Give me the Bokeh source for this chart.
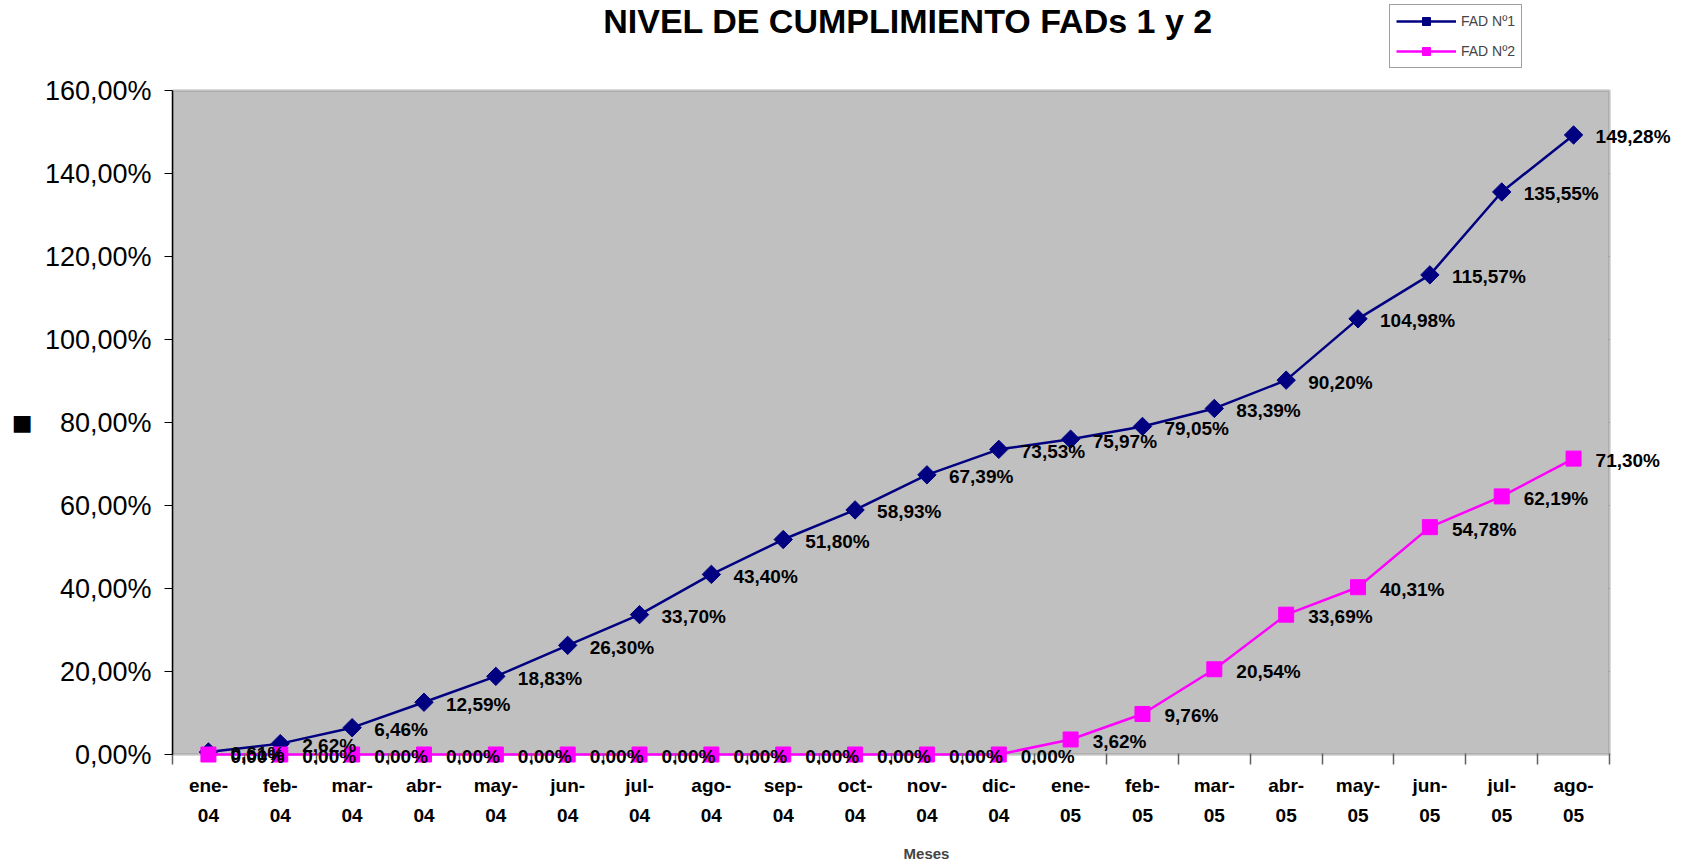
import math
from bokeh.plotting import figure
from bokeh.models import (Range1d, LinearAxis, FixedTicker, ColumnDataSource,
                          LabelSet, Label, Legend, LegendItem, BoxAnnotation)
from bokeh.core.properties import value
from bokeh.embed import file_html
from bokeh.resources import INLINE

# ---------------- data ----------------
months = ["ene-04", "feb-04", "mar-04", "abr-04", "may-04", "jun-04", "jul-04",
          "ago-04", "sep-04", "oct-04", "nov-04", "dic-04", "ene-05", "feb-05",
          "mar-05", "abr-05", "may-05", "jun-05", "jul-05", "ago-05"]
fad1 = [0.61, 2.62, 6.46, 12.59, 18.83, 26.30, 33.70, 43.40, 51.80, 58.93,
        67.39, 73.53, 75.97, 79.05, 83.39, 90.20, 104.98, 115.57, 135.55, 149.28]
fad2 = [0.00, 0.00, 0.00, 0.00, 0.00, 0.00, 0.00, 0.00, 0.00, 0.00,
        0.00, 0.00, 3.62, 9.76, 20.54, 33.69, 40.31, 54.78, 62.19, 71.30]
y_ticks = [0, 20, 40, 60, 80, 100, 120, 140, 160]
y_tick_labels = ["0,00%", "20,00%", "40,00%", "60,00%", "80,00%",
                 "100,00%", "120,00%", "140,00%", "160,00%"]
series_names = ["FAD Nº1", "FAD Nº2"]
title_text = "NIVEL DE CUMPLIMIENTO FADs 1 y 2"
x_title = "Meses"
y_title = "■"

# ---------------- geometry (pixels) ----------------
n = len(months)
SANS = "Liberation Sans"
left_px = 172             # page x of the gray plotting area
plot_w_px = 1437          # gray plotting area width
plot_h_px = 664           # gray plotting area height
frame_w = 1682 - left_px - 2   # frame extends right so labels are not clipped
top_px = 90               # space above gray area (title + legend)
bottom_px = 10            # space below zero line for labels
frame_h = plot_h_px + top_px + bottom_px
px_per_x = plot_w_px / n
px_per_y = plot_h_px / (y_ticks[-1] - y_ticks[0])
x_start = -0.5
x_end = x_start + frame_w / px_per_x
y_start = y_ticks[0] - bottom_px / px_per_y
y_end = y_ticks[-1] + top_px / px_per_y

p = figure(frame_width=frame_w, frame_height=frame_h,
           x_range=Range1d(x_start, x_end), y_range=Range1d(y_start, y_end),
           x_axis_type=None, output_backend="svg", toolbar_location=None,
           min_border_left=left_px, min_border_right=0, min_border_top=0,
           min_border_bottom=0, background_fill_color="white",
           border_fill_color="white")
p.title = None
p.outline_line_color = None
p.xgrid.visible = False
p.ygrid.visible = False

# gray plotting area
p.add_layout(BoxAnnotation(left=-0.5, right=n - 0.5, bottom=y_ticks[0],
                           top=y_ticks[-1], fill_color="#C0C0C0", fill_alpha=1,
                           line_color="#808080", line_width=3, level="underlay"))
# horizontal grid lines
p.segment(x0=[-0.5] * (len(y_ticks) - 2), x1=[n - 0.5] * (len(y_ticks) - 2),
          y0=y_ticks[1:-1], y1=y_ticks[1:-1], line_color="#1a1a1a",
          line_width=1, level="underlay")

# y axis
yax = p.yaxis[0]
yax.ticker = FixedTicker(ticks=y_ticks, minor_ticks=[])
yax.bounds = (y_ticks[0], y_ticks[-1])
yax.major_label_overrides = {t: l for t, l in zip(y_ticks, y_tick_labels)}
yax.major_label_text_font = SANS
yax.major_label_text_font_size = "27px"
yax.major_label_text_color = "black"
yax.major_label_standoff = 13
yax.axis_line_color = "black"
yax.axis_line_width = 1.5
yax.major_tick_out = 8
yax.major_tick_in = 0
yax.major_tick_line_color = "black"

# y title (black square) as outer axis label at the middle of the value range
ymid = (y_ticks[0] + y_ticks[-1]) / 2
yax2 = LinearAxis(ticker=FixedTicker(ticks=[ymid], minor_ticks=[]),
                  major_label_overrides={ymid: y_title})
yax2.axis_line_color = None
yax2.major_tick_line_color = None
yax2.major_tick_out = 0
yax2.major_tick_in = 0
yax2.major_label_standoff = 9
yax2.major_label_text_font = "DejaVu Sans"
yax2.major_label_text_font_size = "22px"
yax2.major_label_text_color = "black"
p.add_layout(yax2, "left")

# x axes (two lines of month labels)
bounds = [i - 0.5 for i in range(n + 1)]
line1 = {i: m.split("-")[0] + "-" for i, m in enumerate(months)}
line2 = {i: m.split("-")[1] for i, m in enumerate(months)}

xax1 = LinearAxis(ticker=FixedTicker(ticks=list(range(n)), minor_ticks=bounds),
                  major_label_overrides=line1)
xax1.axis_line_color = None
xax1.major_tick_out = 0
xax1.major_tick_in = 0
xax1.minor_tick_out = 0
xax1.minor_tick_in = bottom_px + 1
xax1.minor_tick_line_color = "#606060"
xax1.minor_tick_line_width = 1.5
xax1.major_label_standoff = 10
xax1.major_label_text_font = SANS
xax1.major_label_text_font_style = "bold"
xax1.major_label_text_font_size = "19px"
xax1.major_label_text_color = "black"
p.add_layout(xax1, "below")

xax2 = LinearAxis(ticker=FixedTicker(ticks=list(range(n)), minor_ticks=[]),
                  major_label_overrides=line2)
xax2.axis_line_color = None
xax2.major_tick_line_color = None
xax2.minor_tick_line_color = None
xax2.major_tick_out = 0
xax2.major_tick_in = 0
xax2.major_label_standoff = 10
xax2.major_label_text_font = SANS
xax2.major_label_text_font_style = "bold"
xax2.major_label_text_font_size = "19px"
xax2.major_label_text_color = "black"
xax2.axis_label = x_title
xax2.axis_label_text_font = SANS
xax2.axis_label_text_font_style = "bold"
xax2.axis_label_text_font_size = "15px"
xax2.axis_label_standoff = 20
p.add_layout(xax2, "below")

# ---------------- series ----------------
def fmt(v):
    return ("%.2f" % v).replace(".", ",") + "%"

src1 = ColumnDataSource(dict(x=list(range(n)), y=fad1, t=[fmt(v) for v in fad1]))
src2 = ColumnDataSource(dict(x=list(range(n)), y=fad2, t=[fmt(v) for v in fad2]))

l1 = p.line("x", "y", source=src1, line_color="#000080", line_width=2.5)
m1 = p.scatter("x", "y", source=src1, marker="square", angle=math.pi / 4,
               size=13, fill_color="#000080", line_color="#000080")
l2 = p.line("x", "y", source=src2, line_color="#FF00FF", line_width=2.5)
m2 = p.scatter("x", "y", source=src2, marker="square", size=15,
               fill_color="#FF00FF", line_color="#FF00FF")

for s in (src1, src2):
    p.add_layout(LabelSet(x="x", y="y", text="t", source=s, x_offset=22,
                          y_offset=-2, text_align="left",
                          text_baseline="middle", text_font=value(SANS),
                          text_font_style="bold", text_font_size="19px",
                          text_color="black", level="overlay"))

# title
p.add_layout(Label(x=(n - 1) / 2, y=y_end, x_offset=17, y_offset=-1,
                   text=title_text, text_align="center", text_baseline="top",
                   text_font=SANS, text_font_style="bold",
                   text_font_size="34px", text_color="black"))

legend = Legend(items=[LegendItem(label=series_names[0], renderers=[l1, m1]),
                       LegendItem(label=series_names[1], renderers=[l2, m2])],
                location=(1217, frame_h - 68), orientation="vertical",
                glyph_width=60, glyph_height=20, label_standoff=5,
                padding=6, spacing=10, margin=0,
                label_text_font=SANS, label_text_font_size="14px",
                border_line_color="#404040", border_line_width=1,
                background_fill_color="white", background_fill_alpha=1)
p.add_layout(legend, "center")

open("out.html", "w").write(file_html(p, INLINE))
